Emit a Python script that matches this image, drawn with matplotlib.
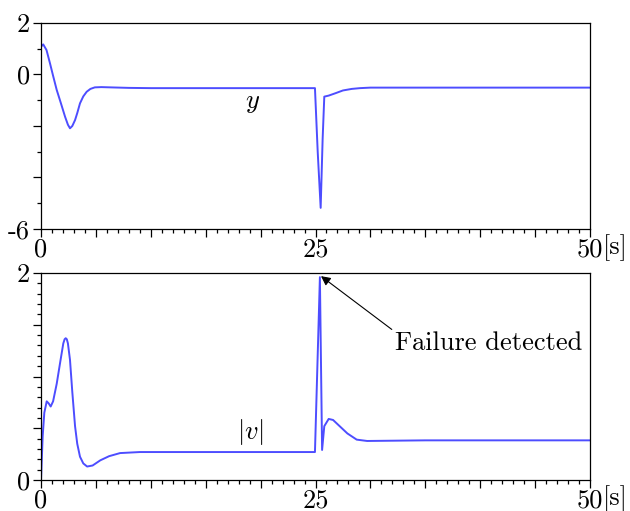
import numpy as np
import matplotlib
matplotlib.use('Agg')
from matplotlib import pyplot as plt
from matplotlib.ticker import MultipleLocator, FixedLocator

plt.rcParams['font.family'] = 'serif'
plt.rcParams['font.serif'] = ['cmr10', 'DejaVu Serif']
plt.rcParams['mathtext.fontset'] = 'cm'
plt.rcParams['axes.unicode_minus'] = False

#------------------------------------------------------------
# values
t_y = [0, 0.2, 0.5, 0.82, 1.1, 1.43, 1.8, 2.19, 2.45, 2.64, 2.85, 3.1, 3.3,
       3.55, 3.85, 4.16, 4.5, 4.9, 5.5, 6.3, 8, 10, 24.95, 25.2, 25.47,
       25.65, 25.8, 26.2, 26.8, 27.5, 28.3, 29.05, 30, 50]
y = [1.08, 1.17, 0.95, 0.43, -0.05, -0.6, -1.1, -1.64, -1.95, -2.09, -2.0,
     -1.77, -1.5, -1.12, -0.85, -0.67, -0.56, -0.5, -0.49, -0.5, -0.52,
     -0.53, -0.53, -3.0, -5.18, -2.5, -0.86, -0.82, -0.73, -0.62, -0.56,
     -0.53, -0.51, -0.51]

t_v = [0, 0.15, 0.3, 0.52, 0.7, 0.88, 1.1, 1.43, 1.75, 2.03, 2.15, 2.25,
       2.35, 2.45, 2.64, 2.85, 3.1, 3.3, 3.55, 3.85, 4.2, 4.7, 5.4, 6.2,
       7.2, 9, 12, 24.95, 25.4, 25.6, 25.8, 26.2, 26.6, 27.1, 27.9, 28.75,
       29.7, 35, 50]
v = [0.0, 0.42, 0.65, 0.76, 0.74, 0.71, 0.76, 0.93, 1.14, 1.32, 1.36, 1.37,
     1.36, 1.32, 1.16, 0.85, 0.52, 0.35, 0.225, 0.16, 0.13, 0.14, 0.19,
     0.23, 0.26, 0.27, 0.27, 0.27, 1.96, 0.29, 0.52, 0.59, 0.58, 0.53,
     0.45, 0.39, 0.377, 0.383, 0.383]

line_color = '#4d4dff'
fs = 19

fig = plt.figure(figsize=(6.3, 5.11), dpi=100)
ax1 = fig.add_axes([0.0651, 0.5519, 0.8714, 0.4031])
ax2 = fig.add_axes([0.0651, 0.0607, 0.8714, 0.4050])

ax1.plot(t_y, y, color=line_color, lw=1.4)
ax2.plot(t_v, v, color=line_color, lw=1.4)

for ax in (ax1, ax2):
    ax.set_xlim(0, 50)
    ax.set_xticks(np.arange(0, 51, 5))
    ax.set_xticklabels(['0', '', '', '', '', '25', '', '', '', '', '50'])
    ax.xaxis.set_minor_locator(MultipleLocator(1))
    ax.tick_params(which='both', direction='out', top=False, right=False,
                   labelsize=fs, width=0.9)
    ax.tick_params(which='major', length=6)
    ax.tick_params(which='minor', length=3)
    ax.tick_params(axis='x', pad=0)
    ax.tick_params(axis='y', pad=2)
    for s in ax.spines.values():
        s.set_linewidth(0.9)
    ax.text(1.068, -0.025, '[s]', transform=ax.transAxes, fontsize=fs,
            ha='right', va='top')

ax1.set_ylim(-6, 2)
ax1.set_yticks([2, 0, -2, -4, -6])
ax1.set_yticklabels(['2', '0', '', '', '-6'])
ax1.yaxis.set_minor_locator(FixedLocator([1, -1, -3, -5]))

ax2.set_ylim(0, 2)
ax2.set_yticks([0, 0.5, 1, 1.5, 2])
ax2.set_yticklabels(['0', '', '', '', '2'])
ax2.yaxis.set_minor_locator(MultipleLocator(0.1))

ax1.text(19.3, -1.1, '$y$', fontsize=fs, ha='center', va='center')
ax2.text(19.0, 0.46, '$|v|$', fontsize=fs, ha='center', va='center')

ax2.annotate('Failure detected', xy=(25.5, 1.97), xytext=(32.2, 1.32),
             fontsize=fs, ha='left', va='center',
             arrowprops=dict(arrowstyle='-|>', color='black', lw=0.8,
                             shrinkA=0, shrinkB=0, mutation_scale=14,
                             relpos=(0, 1)))

fig.savefig('out.png', dpi=100)
